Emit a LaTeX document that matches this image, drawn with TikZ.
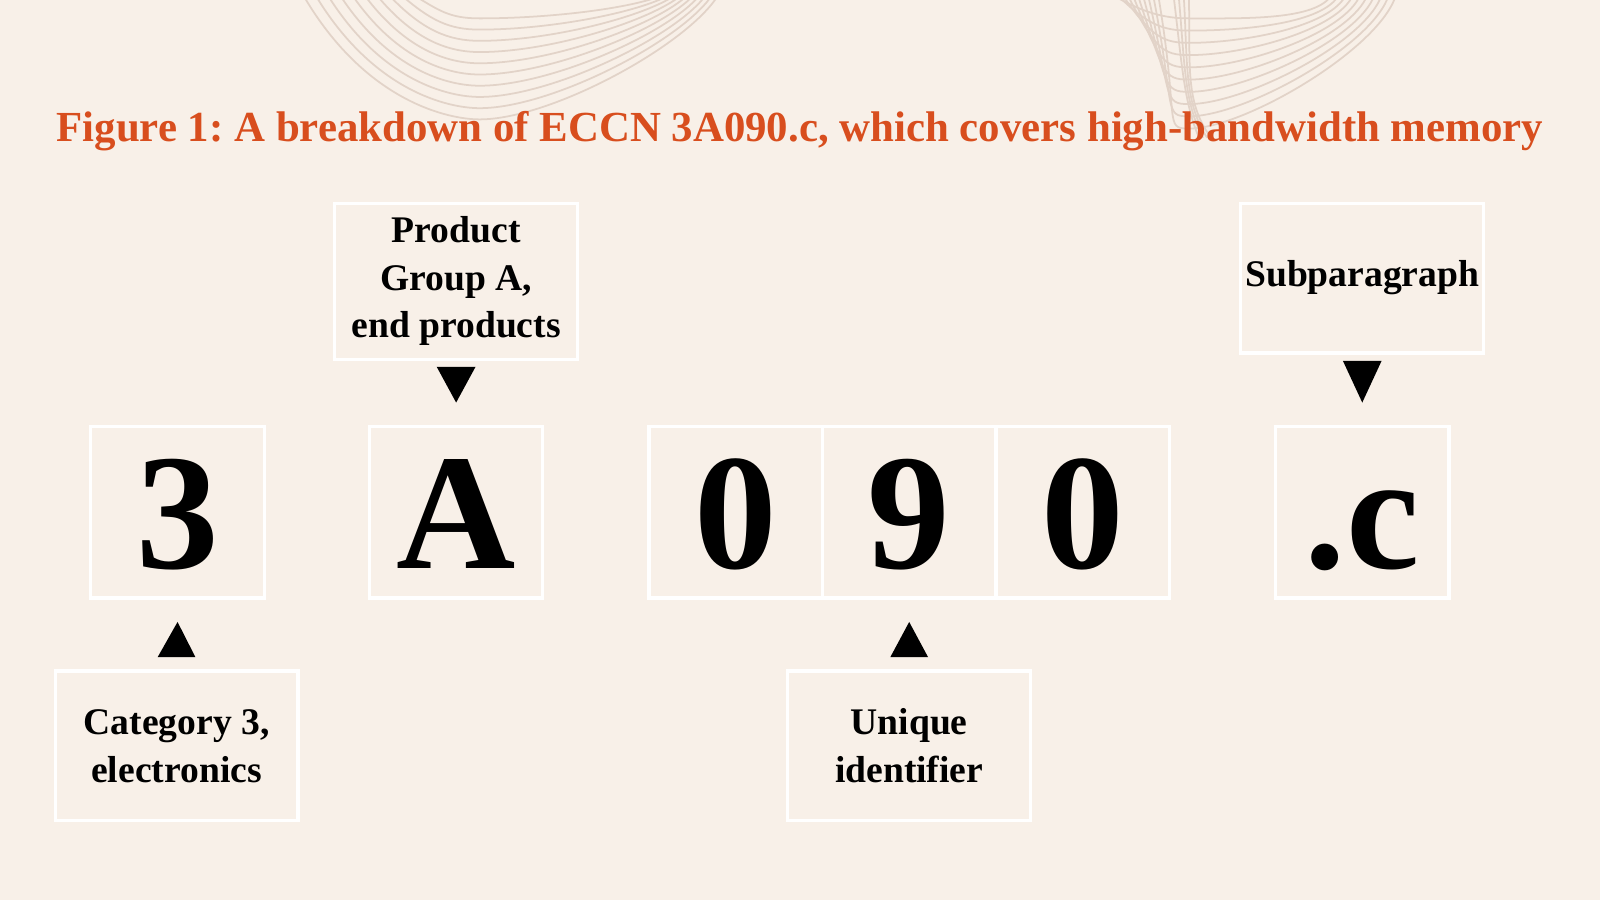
\documentclass[tikz,border=0pt]{standalone}
\usepackage{fontspec}
\setmainfont{Liberation Serif}
\frenchspacing
\usetikzlibrary{calc}
\definecolor{paper}{RGB}{248,240,232}
\definecolor{swirl}{RGB}{226,211,200}
\definecolor{headline}{RGB}{216,78,30}
\tikzset{
  codebox/.style={draw=white, line width=0.9pt, minimum width=1.735cm, minimum height=1.714cm,
    inner sep=0pt, font=\fontsize{47}{47}\selectfont\bfseries, text height=32pt, text depth=0pt},
  notebox/.style={draw=white, line width=0.9pt, minimum width=2.429cm, minimum height=1.5cm,
    inner sep=0pt, align=center, font=\fontsize{10.7}{13.6}\selectfont\bfseries},
}
\begin{document}
\begin{tikzpicture}[x=0.010204cm, y=-0.010204cm]
  \fill[paper] (0,0) rectangle (1568,882);
  \useasboundingbox (0,0) rectangle (1568,882);
  % background swirls
  \begin{scope}
    \clip (0,0) rectangle (1568,882);
    \foreach \i in {0,...,9}{
      \draw[swirl, line width=0.5pt] (405-12*\i,-5) .. controls (430-8*\i,10+10*\i) and (440,18+11*\i) .. (470,18+11*\i)
        .. controls (540,18+11*\i) and (620+6*\i,8+4*\i) .. (650+6*\i,-5);
      \draw[swirl, line width=0.5pt] (1090+5*\i,-5) .. controls (1120+4*\i,12+12*\i) and (1140,18+12*\i) .. (1165,18+12*\i)
        .. controls (1220,18+12*\i) and (1290+7*\i,20+3*\i) .. (1305+7*\i,-5);
    }
    \foreach \i in {0,...,3}
      \draw[swirl, line width=0.5pt] (1150+5*\i,-5) .. controls (1158+3*\i,60) and (1160,100) .. (1175+4*\i,135);
  \end{scope}

  \node[headline, anchor=base, font=\fontsize{12.2}{15}\selectfont\bfseries] (title) at (784,139)
    {Figure 1: A breakdown of ECCN 3A090.c, which covers high-bandwidth memory};

  % the code itself
  \node[codebox] (three) at (174,502) {3};
  \node[codebox] (A) at (447,502) {A};
  \node[codebox] (zeroa) at (721,502) {0};
  \node[codebox] (nine) at (891,502) {9};
  \node[codebox] (zerob) at (1061,502) {0};
  \node[codebox] (c) at (1335,502) {.c};

  % notes
  \node[notebox, minimum height=1.561cm] (prod) at (447,275.5) {Product\\Group A,\\end products};
  \node[notebox] (sub) at (1335,272.5) {Subparagraph};
  \node[notebox] (cat) at (173,731) {Category 3,\\electronics};
  \node[notebox] (uniq) at (891,731) {Unique\\identifier};

  % pointers
  \foreach \a/\b in {prod/A, sub/c}
    \fill ($(\a.south)+(-19,6)$) -- ($(\a.south)+(19,6)$) -- ($(\b.north)+(0,-22)$) -- cycle;
  \foreach \a/\b in {cat/three, uniq/nine}
    \fill ($(\a.north)+(-18.5,-12)$) -- ($(\a.north)+(18.5,-12)$) -- ($(\b.south)+(0,22)$) -- cycle;
\end{tikzpicture}
\end{document}
